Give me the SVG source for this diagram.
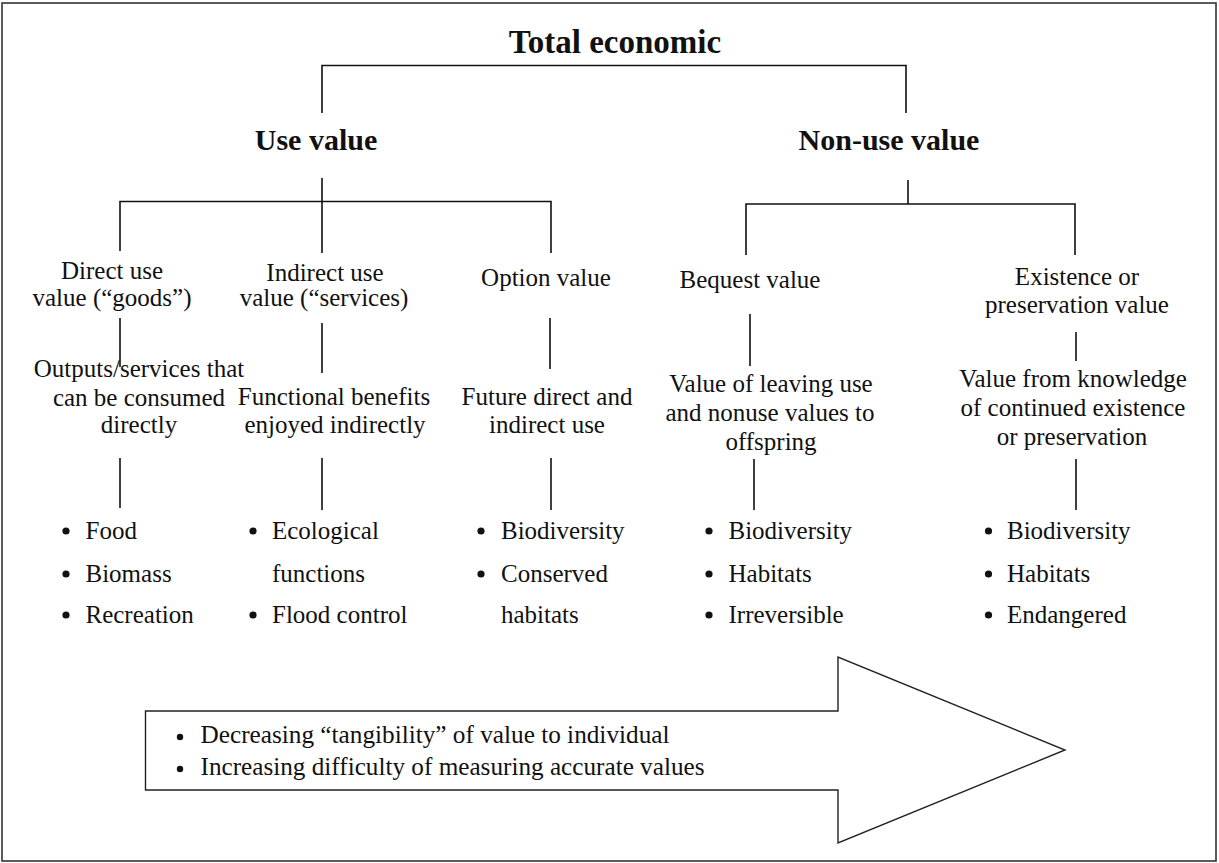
<svg xmlns="http://www.w3.org/2000/svg" width="1219" height="863" viewBox="0 0 1219 863">
  <style>
    .frame { fill: #fff; stroke: #333; stroke-width: 1.6; }
    .link { fill: none; stroke: #111; stroke-width: 1.6; }
    .title { font-weight: bold; fill: #111; text-anchor: middle; }
    .lbl { font-size: 25px; fill: #111; text-anchor: middle; }
    .item { font-size: 25px; fill: #111; }
    .dot { fill: #111; }
    .arrow { fill: #fff; stroke: #222; stroke-width: 1.4; }
  </style>

  <rect class="frame" x="2" y="3" width="1214" height="858"/>

  <!-- tree connectors -->
  <g id="connectors" class="link">
    <path d="M322 113 V65.5 H906 V113"/>
    <path d="M322 178 V253 M120 251 V201.5 H551 V253"/>
    <path d="M908 180 V204 M746 255 V204 H1075 V255"/>
    <path d="M120 318 V367 M322 323 V373 M550 318 V369 M750 314 V366 M1076 332 V361"/>
    <path d="M120 458 V508 M322 458 V510 M551 458 V510 M754 459 V510 M1076 459 V510"/>
  </g>

  <g font-family="'Liberation Serif', 'Times New Roman', Times, 'DejaVu Serif', serif">
  <g id="total">
    <text class="title" x="615" y="53" font-size="33">Total economic</text>
  </g>
  <g id="use-value">
    <text class="title" x="316" y="150" font-size="30">Use value</text>
  </g>
  <g id="non-use-value">
    <text class="title" x="889" y="150" font-size="30">Non-use value</text>
  </g>

  <!-- direct use -->
  <g id="direct-use">
    <text class="lbl" x="112" y="279">Direct use</text>
    <text class="lbl" x="112" y="306">value (“goods”)</text>
    <text class="lbl" x="139" y="377">Outputs/services that</text>
    <text class="lbl" x="139" y="406">can be consumed</text>
    <text class="lbl" x="139" y="433">directly</text>
    <circle class="dot" cx="66" cy="531" r="3.6"/>
    <circle class="dot" cx="66" cy="574" r="3.6"/>
    <circle class="dot" cx="66" cy="615" r="3.6"/>
    <text class="item" x="85.5" y="539">Food</text>
    <text class="item" x="85.5" y="582">Biomass</text>
    <text class="item" x="85.5" y="623">Recreation</text>
  </g>

  <!-- indirect use -->
  <g id="indirect-use">
    <text class="lbl" x="325" y="281">Indirect use</text>
    <text class="lbl" x="324" y="306">value (“services)</text>
    <text class="lbl" x="334" y="405">Functional benefits</text>
    <text class="lbl" x="335" y="433">enjoyed indirectly</text>
    <circle class="dot" cx="253" cy="531" r="3.6"/>
    <circle class="dot" cx="253" cy="615" r="3.6"/>
    <text class="item" x="272" y="539">Ecological</text>
    <text class="item" x="272" y="582">functions</text>
    <text class="item" x="272" y="623">Flood control</text>
  </g>

  <!-- option value -->
  <g id="option-value">
    <text class="lbl" x="546" y="286">Option value</text>
    <text class="lbl" x="547" y="405">Future direct and</text>
    <text class="lbl" x="547" y="433">indirect use</text>
    <circle class="dot" cx="481" cy="531" r="3.6"/>
    <circle class="dot" cx="481" cy="574" r="3.6"/>
    <text class="item" x="501" y="539">Biodiversity</text>
    <text class="item" x="501" y="582">Conserved</text>
    <text class="item" x="501" y="623">habitats</text>
  </g>

  <!-- bequest value -->
  <g id="bequest-value">
    <text class="lbl" x="750" y="288">Bequest value</text>
    <text class="lbl" x="771" y="392">Value of leaving use</text>
    <text class="lbl" x="770" y="421">and nonuse values to</text>
    <text class="lbl" x="771" y="450">offspring</text>
    <circle class="dot" cx="709" cy="531" r="3.6"/>
    <circle class="dot" cx="709" cy="574" r="3.6"/>
    <circle class="dot" cx="709" cy="615" r="3.6"/>
    <text class="item" x="728.5" y="539">Biodiversity</text>
    <text class="item" x="728.5" y="582">Habitats</text>
    <text class="item" x="728.5" y="623">Irreversible</text>
  </g>

  <!-- existence value -->
  <g id="existence-value">
    <text class="lbl" x="1077" y="285">Existence or</text>
    <text class="lbl" x="1077" y="313">preservation value</text>
    <text class="lbl" x="1073" y="387">Value from knowledge</text>
    <text class="lbl" x="1073" y="416">of continued existence</text>
    <text class="lbl" x="1072" y="445">or preservation</text>
    <circle class="dot" cx="988.5" cy="531" r="3.6"/>
    <circle class="dot" cx="988.5" cy="574" r="3.6"/>
    <circle class="dot" cx="988.5" cy="615" r="3.6"/>
    <text class="item" x="1007" y="539">Biodiversity</text>
    <text class="item" x="1007" y="582">Habitats</text>
    <text class="item" x="1007" y="623">Endangered</text>
  </g>

  <!-- trend arrow -->
  <g id="trend-arrow">
    <path class="arrow" d="M145.5 711 H838 V657 L1065 750 L838 843 V790 H145.5 Z"/>
    <circle class="dot" cx="180" cy="737" r="3.2"/>
    <circle class="dot" cx="180" cy="769" r="3.2"/>
    <text class="item" x="200.5" y="743" font-size="21" textLength="469" lengthAdjust="spacingAndGlyphs">Decreasing “tangibility” of value to individual</text>
    <text class="item" x="200.5" y="775" font-size="21" textLength="504" lengthAdjust="spacingAndGlyphs">Increasing difficulty of measuring accurate values</text>
  </g>
  </g>
</svg>
